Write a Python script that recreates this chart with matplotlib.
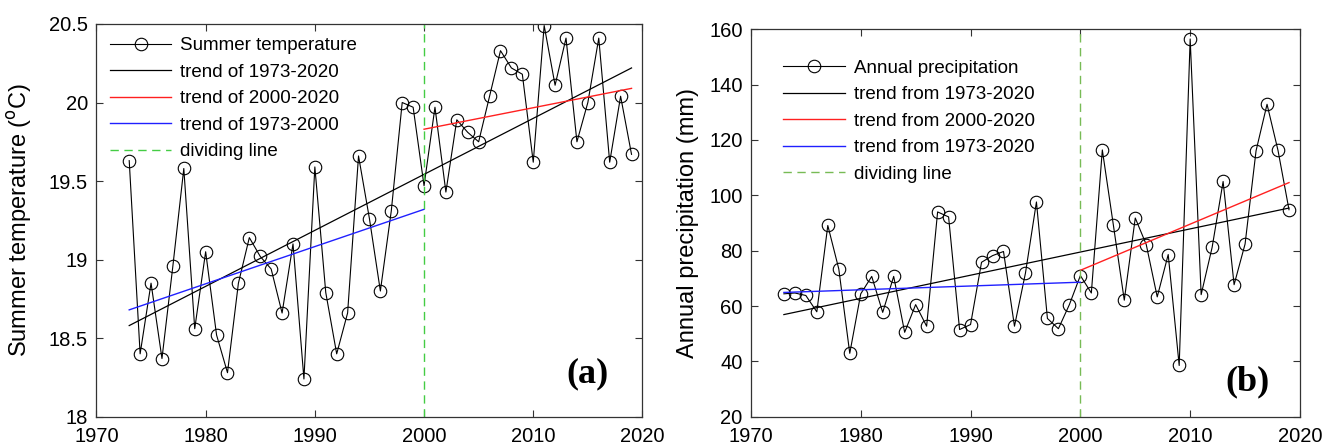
import matplotlib.pyplot as plt
from matplotlib.ticker import FixedLocator

plt.rcParams['font.family'] = ['Liberation Sans', 'DejaVu Sans']

years = list(range(1973, 2020))

summer_temp = [19.63, 18.40, 18.85, 18.37, 18.96, 19.58, 18.56, 19.05, 18.52, 18.28,
               18.85, 19.14, 19.02, 18.94, 18.66, 19.10, 18.24, 19.59, 18.79, 18.40,
               18.66, 19.66, 19.26, 18.80, 19.31, 20.00, 19.97, 19.47, 19.97, 19.43,
               19.89, 19.81, 19.75, 20.04, 20.33, 20.22, 20.18, 19.62, 20.49, 20.11,
               20.41, 19.75, 20.00, 20.41, 19.62, 20.04, 19.67]

annual_precip = [64.4, 64.7, 63.8, 57.9, 89.1, 73.4, 42.9, 64.4, 70.7, 57.7,
                 70.7, 50.5, 60.5, 52.7, 94.0, 92.2, 51.5, 53.3, 75.8, 78.2,
                 79.7, 52.7, 71.9, 97.6, 55.5, 51.8, 60.5, 71.0, 64.7, 116.4,
                 89.4, 62.1, 91.8, 82.2, 63.3, 78.6, 38.5, 156.5, 64.1, 81.2,
                 105.0, 67.7, 82.4, 116.1, 132.9, 116.2, 94.8]

# trend line end points
temp_trend_all = ([1973, 2019], [18.58, 20.22])
temp_trend_late = ([2000, 2019], [19.83, 20.09])
temp_trend_early = ([1973, 2000], [18.68, 19.32])

precip_trend_all = ([1973, 2019], [56.9, 95.4])
precip_trend_late = ([2000, 2019], [72.9, 104.6])
precip_trend_early = ([1973, 2000], [64.9, 68.6])

divide_year = 2000

temp_labels = ['Summer temperature', 'trend of 1973-2020', 'trend of 2000-2020',
               'trend of 1973-2000', 'dividing line']
precip_labels = ['Annual precipitation', 'trend from 1973-2020', 'trend from 2000-2020',
                 'trend from 1973-2020', 'dividing line']

temp_ticks = [18, 18.5, 19, 19.5, 20, 20.5]
precip_ticks = [20, 40, 60, 80, 100, 120, 140, 160]
year_ticks = [1970, 1980, 1990, 2000, 2010, 2020]

fig = plt.figure(figsize=(13.23, 4.48), dpi=100)
ax1 = fig.add_axes([0.0729, 0.0699, 0.4127, 0.8766])
ax2 = fig.add_axes([0.5676, 0.0699, 0.4150, 0.8647])


def draw_panel(ax, y, tr_all, tr_late, tr_early, labels, ylim, yticks, green, anchor):
    ax.plot(years, y, color='black', lw=0.8, marker='o', ms=9,
            mfc='none', mec='black', mew=0.8, label=labels[0])
    ax.plot(*tr_all, color='black', lw=0.9, label=labels[1])
    ax.plot(*tr_late, color='#ff2020', lw=1.0, label=labels[2])
    ax.plot(*tr_early, color='#2020ff', lw=1.0, label=labels[3])
    ax.axvline(divide_year, color=green, lw=1.0, ls=(0, (6, 4)), label=labels[4])
    ax.set_xlim(1970, 2020)
    ax.set_ylim(*ylim)
    ax.xaxis.set_major_locator(FixedLocator(year_ticks))
    ax.set_yticks(yticks)
    ax.set_yticklabels(['%g' % t for t in yticks])
    ax.tick_params(direction='in', length=5, width=0.8, labelsize=14.5,
                   top=True, right=True, color='#333333')
    ax.tick_params(axis='x', pad=7.5)
    ax.tick_params(axis='y', pad=6)
    for s in ax.spines.values():
        s.set_color('#333333')
        s.set_linewidth(0.9)
    ax.legend(loc='upper left', bbox_to_anchor=anchor, frameon=False, fontsize=13.5,
              handlelength=3.3, handletextpad=0.45, labelspacing=0.5,
              borderaxespad=0.3)


draw_panel(ax1, summer_temp, temp_trend_all, temp_trend_late, temp_trend_early,
           temp_labels, (18, 20.5), temp_ticks, '#44cc44', (0.0, 1.0))
draw_panel(ax2, annual_precip, precip_trend_all, precip_trend_late, precip_trend_early,
           precip_labels, (20, 160), precip_ticks, '#77bb55', (0.035, 0.956))

ax1.set_ylabel(r'Summer temperature ($^{\mathrm{o}}$C)', fontsize=17)
ax1.yaxis.set_label_coords(-0.115, 0.5)
ax2.set_ylabel('Annual precipitation (mm)', fontsize=17)
ax2.yaxis.set_label_coords(-0.094, 0.5)

ax1.text(0.90, 0.11, '(a)', transform=ax1.transAxes, ha='center', va='center',
         fontsize=26, fontweight='bold', family='Liberation Serif')
ax2.text(0.905, 0.09, '(b)', transform=ax2.transAxes, ha='center', va='center',
         fontsize=26, fontweight='bold', family='Liberation Serif')

fig.savefig('out.png', dpi=100)
